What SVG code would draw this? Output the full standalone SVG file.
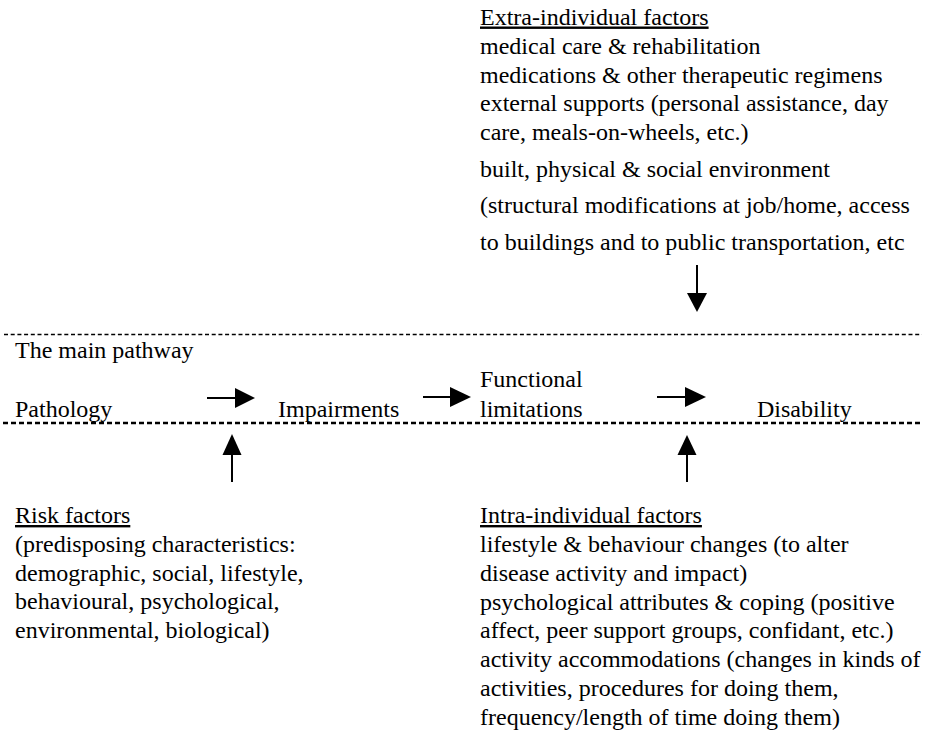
<svg xmlns="http://www.w3.org/2000/svg" width="926" height="735" viewBox="0 0 926 735">
<style>
text{font-family:"Times New Roman","Liberation Serif",Tinos,serif;font-size:24px;fill:#000}
.u{text-decoration:underline}
.shaft{stroke:#000;stroke-width:2;fill:none}
.head{fill:#000;stroke:none}
</style>
<rect width="926" height="735" fill="#fff"/>
<g id="separators">
<line x1="4" y1="334.5" x2="922" y2="334.5" stroke="#000" stroke-width="1.5" stroke-dasharray="4 2.7"/>
<line x1="3" y1="423" x2="920" y2="423" stroke="#000" stroke-width="2.7" stroke-dasharray="5 3"/>
</g>
<g id="extra-individual">
<text x="480" y="24.5" class="u">Extra-individual factors</text>
<text x="480" y="53.5">medical care &amp; rehabilitation</text>
<text x="480" y="82.5">medications &amp; other therapeutic regimens</text>
<text x="480" y="111">external supports (personal assistance, day</text>
<text x="480" y="139.5">care, meals-on-wheels, etc.)</text>
<text x="480" y="176.5">built, physical &amp; social environment</text>
<text x="480" y="213">(structural modifications at job/home, access</text>
<text x="480" y="250">to buildings and to public transportation, etc</text>
</g>
<g id="main-pathway-label">
<text x="15" y="358">The main pathway</text>
</g>
<g id="pathology"><text x="15" y="417">Pathology</text></g>
<g id="impairments"><text x="278" y="417">Impairments</text></g>
<g id="functional-limitations">
<text x="480" y="387">Functional</text>
<text x="480" y="417">limitations</text>
</g>
<g id="disability"><text x="757" y="417">Disability</text></g>
<g id="risk-factors">
<text x="15" y="523" class="u">Risk factors</text>
<text x="15" y="551.8">(predisposing characteristics:</text>
<text x="15" y="580.6">demographic, social, lifestyle,</text>
<text x="15" y="609.4">behavioural, psychological,</text>
<text x="15" y="638.2">environmental, biological)</text>
</g>
<g id="intra-individual">
<text x="480" y="523" class="u">Intra-individual factors</text>
<text x="480" y="552">lifestyle &amp; behaviour changes (to alter</text>
<text x="480" y="580.8">disease activity and impact)</text>
<text x="480" y="609.6">psychological attributes &amp; coping (positive</text>
<text x="480" y="638.4">affect, peer support groups, confidant, etc.)</text>
<text x="480" y="667.2">activity accommodations (changes in kinds of</text>
<text x="480" y="696">activities, procedures for doing them,</text>
<text x="480" y="724.8">frequency/length of time doing them)</text>
</g>
<g id="connectors">
<line class="shaft" x1="207" y1="398" x2="236" y2="398"/>
<polygon class="head" points="235,388 255,398 235,408"/>
<line class="shaft" x1="423" y1="397" x2="451" y2="397"/>
<polygon class="head" points="450,387 471,397 450,407"/>
<line class="shaft" x1="657" y1="397" x2="686" y2="397"/>
<polygon class="head" points="685,387 706,397 685,407"/>
<line class="shaft" x1="697" y1="265" x2="697" y2="294"/>
<polygon class="head" points="687,293 707,293 697,312"/>
<line class="shaft" x1="232" y1="482" x2="232" y2="454"/>
<polygon class="head" points="222.5,455 241.5,455 232,434"/>
<line class="shaft" x1="687" y1="482" x2="687" y2="454"/>
<polygon class="head" points="677.5,455 696.5,455 687,435"/>
</g>
</svg>
